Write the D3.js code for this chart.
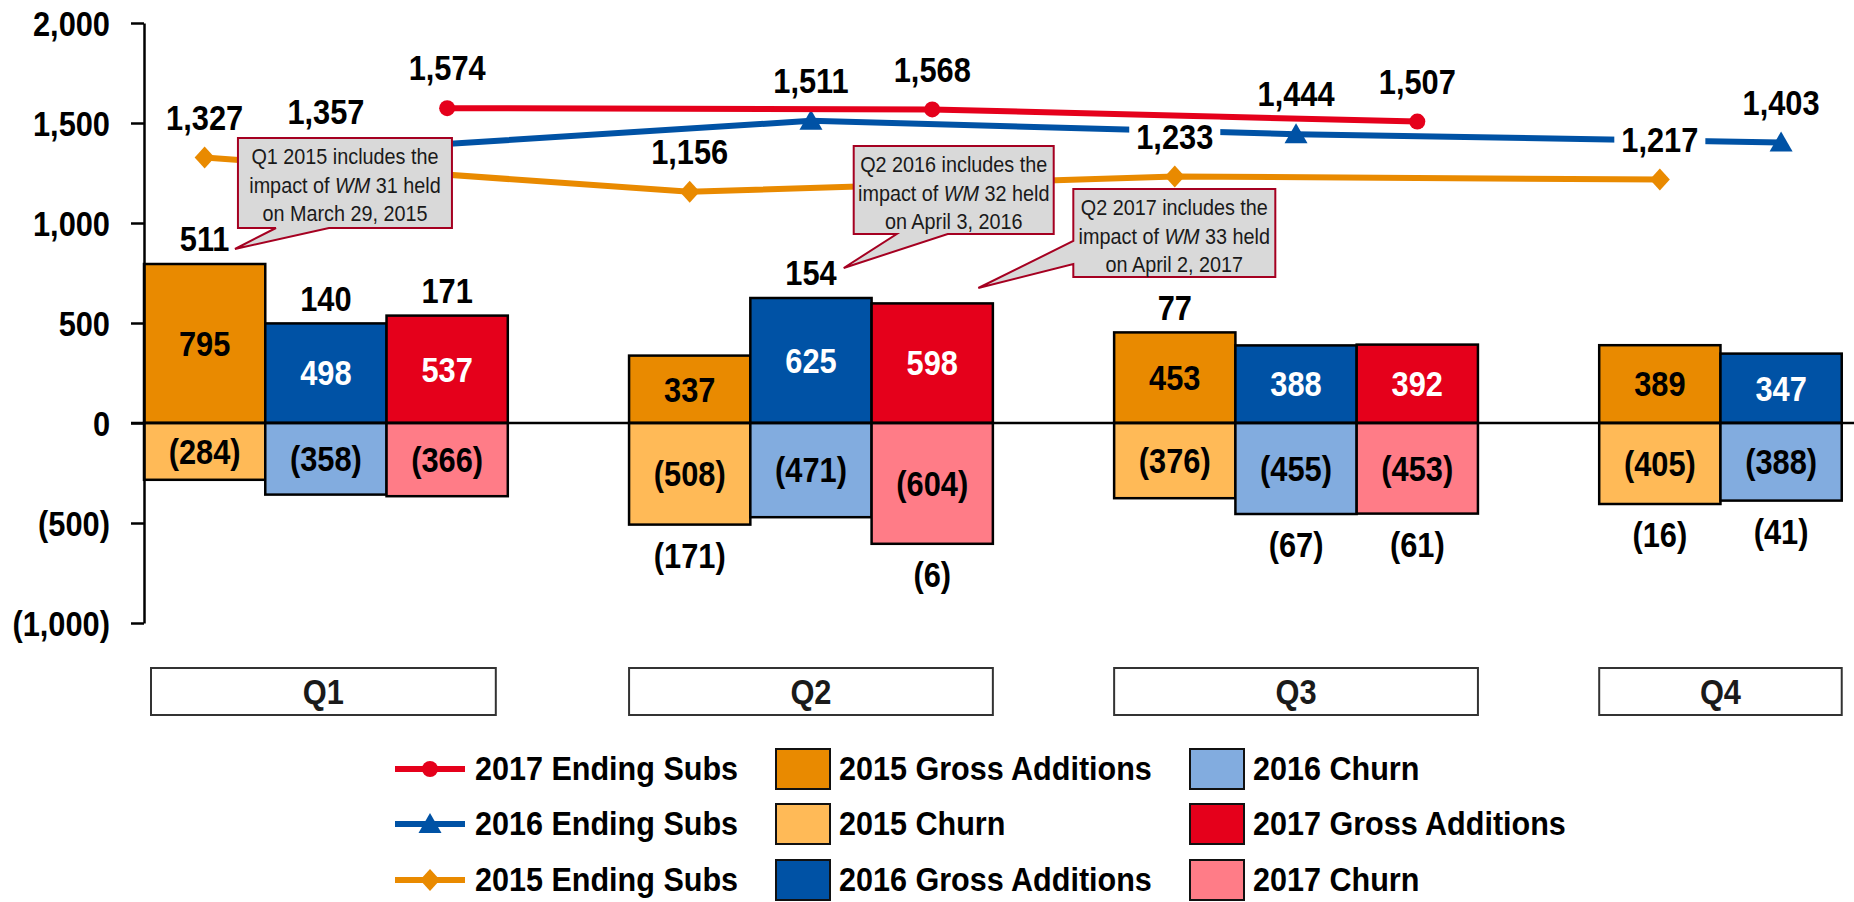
<!DOCTYPE html>
<html>
<head>
<meta charset="utf-8">
<script src="https://cdn.jsdelivr.net/npm/d3@7"></script>
<style>
  body { margin: 0; background: #fff; }
  svg text { font-family: "Liberation Sans", Arial, sans-serif; }
</style>
</head>
<body>
<div id="chart"></div>
<script>
// Data (thousands of subs)
var quarters = ["Q1", "Q2", "Q3", "Q4"];
var years = ["2015", "2016", "2017"];

var gross2015 = [795, 337, 453, 389];
var churn2015 = [-284, -508, -376, -405];
var gross2016 = [498, 625, 388, 347];
var churn2016 = [-358, -471, -455, -388];
var gross2017 = [537, 598, 392];
var churn2017 = [-366, -604, -453];

var ending2015 = [1327, 1156, 1233, 1217];
var ending2016 = [1357, 1511, 1444, 1403];
var ending2017 = [1574, 1568, 1507];

var yTicks = [-1000, -500, 0, 500, 1000, 1500, 2000];

var notes = [
    { quarter: "Q1", year: "2015", lines: ["Q1 2015 includes the", ["impact of ", "WM", " 31 held"], "on March 29, 2015"] },
    { quarter: "Q2", year: "2016", lines: ["Q2 2016 includes the", ["impact of ", "WM", " 32 held"], "on April 3, 2016"] },
    { quarter: "Q2", year: "2017", lines: ["Q2 2017 includes the", ["impact of ", "WM", " 33 held"], "on April 2, 2017"] }
];

var width = 1854, height = 902;
var SX = 0.88;      // the original lettering is narrow
var colors = {
    "2015": { gross: "#E98A00", churn: "#FFBA57", line: "#E98A00", grossText: "#000" },
    "2016": { gross: "#0052A5", churn: "#82ACDF", line: "#0052A5", grossText: "#fff" },
    "2017": { gross: "#E5001B", churn: "#FF7C87", line: "#E5001B", grossText: "#fff" }
};

var barSeries = [
    { year: "2015", gross: gross2015, churn: churn2015 },
    { year: "2016", gross: gross2016, churn: churn2016 },
    { year: "2017", gross: gross2017, churn: churn2017 }
];
var lineSeries = [
    { year: "2015", values: ending2015, shape: "diamond" },
    { year: "2016", values: ending2016, shape: "triangle" },
    { year: "2017", values: ending2017, shape: "circle" }
];

var fmtNum = d3.format(",");
function fmt(v) { return v < 0 ? "(" + fmtNum(-v) + ")" : fmtNum(v); }

var axisX = 144;
var x0 = d3.scaleBand()
    .domain(quarters)
    .range([axisX, axisX + 1819])
    .paddingInner(0.25)
    .paddingOuter(0);

var x1 = d3.scaleBand()
    .domain(years)
    .range([0, x0.bandwidth()]);

var y = d3.scaleLinear()
    .domain([-1000, 2000])
    .range([623, 23]);

var bw = x1.bandwidth();
function cx(q, yr) { return x0(q) + x1(yr) + bw / 2; }

var svg = d3.select("#chart").append("svg")
    .attr("width", width)
    .attr("height", height)
    .style("display", "block");

// text placed in a group so it can be squeezed horizontally
function label(parent, x, yy, str, size, opt) {
    opt = opt || {};
    var g = parent.append("g").attr("transform", "translate(" + x + "," + yy + ")");
    g.append("text")
        .attr("dy", "0.35em")
        .attr("transform", "scale(" + (opt.sx || SX) + ",1)")
        .style("text-anchor", opt.anchor || "middle")
        .style("font-size", size + "px")
        .style("font-weight", opt.weight || "bold")
        .style("fill", opt.fill || "#000")
        .text(str);
    return g;
}

// Bars
barSeries.forEach(function(s) {
    var c = colors[s.year];
    var g = svg.append("g").attr("class", "bars-" + s.year);
    g.selectAll("rect.gross")
        .data(s.gross)
        .enter().append("rect")
        .attr("class", "gross")
        .attr("x", (d, i) => x0(quarters[i]) + x1(s.year))
        .attr("y", d => y(d))
        .attr("width", bw)
        .attr("height", d => y(0) - y(d))
        .style("fill", c.gross)
        .style("stroke", "#000")
        .style("stroke-width", 2.5);
    g.selectAll("rect.churn")
        .data(s.churn)
        .enter().append("rect")
        .attr("class", "churn")
        .attr("x", (d, i) => x0(quarters[i]) + x1(s.year))
        .attr("y", y(0))
        .attr("width", bw)
        .attr("height", d => y(d) - y(0))
        .style("fill", c.churn)
        .style("stroke", "#000")
        .style("stroke-width", 2.5);
});

// Zero line
svg.append("line")
    .attr("x1", axisX - 13)
    .attr("x2", width)
    .attr("y1", y(0))
    .attr("y2", y(0))
    .style("stroke", "#000")
    .style("stroke-width", 2.5);

// Y axis
var yAxis = d3.axisLeft(y)
    .tickValues(yTicks)
    .tickFormat(fmt)
    .tickSize(13)
    .tickSizeOuter(0)
    .tickPadding(21);

var ax = svg.append("g")
    .attr("transform", "translate(" + axisX + ",0)")
    .call(yAxis);
ax.select(".domain").style("stroke", "#000").style("stroke-width", 2.5);
ax.selectAll(".tick line").style("stroke", "#000").style("stroke-width", 2.5);
ax.selectAll(".tick text")
    .attr("x", 0)
    .attr("dy", "0.35em")
    .attr("transform", "translate(-34,0) scale(" + SX + ",1)")
    .style("font-family", "'Liberation Sans', Arial, sans-serif")
    .style("font-size", "35px")
    .style("font-weight", "bold")
    .style("fill", "#000");

// Ending subs lines
var markerPath = {
    circle: "M8,0A8,8 0 1,1 -8,0A8,8 0 1,1 8,0Z",
    triangle: "M0,-11L11.5,9L-11.5,9Z",
    diamond: "M0,-11L10,0L0,11L-10,0Z"
};

lineSeries.forEach(function(s) {
    var pts = s.values.map((v, i) => ({ q: quarters[i], v: v }));
    var line = d3.line()
        .x(d => cx(d.q, s.year))
        .y(d => y(d.v));
    svg.append("path")
        .datum(pts)
        .attr("d", line)
        .style("fill", "none")
        .style("stroke", colors[s.year].line)
        .style("stroke-width", 6);
    svg.selectAll(".mk-" + s.year)
        .data(pts)
        .enter().append("path")
        .attr("class", "mk-" + s.year)
        .attr("transform", d => "translate(" + cx(d.q, s.year) + "," + y(d.v) + ")")
        .attr("d", markerPath[s.shape])
        .style("fill", colors[s.year].line);
});

// Callouts (box offsets relative to the pointer tip)
var noteLayout = [
    { tipFrac: 0.75, tipVal: 870, box: [3, -111, 214, 90], base: "bottom", b: [38, 91] },
    { tipFrac: 0.77, tipVal: 775, box: [10, -122, 200, 88], base: "bottom", b: [43, 94] },
    { tipFrac: 0.88, tipVal: 675, box: [95, -99, 202, 88], base: "left", b: [52, 75] }
];

notes.forEach(function(n, k) {
    var L = noteLayout[k];
    var tx = x0(n.quarter) + x1(n.year) + bw * L.tipFrac;
    var ty = y(L.tipVal);
    var left = tx + L.box[0], top = ty + L.box[1];
    var right = left + L.box[2], bottom = top + L.box[3];
    var p;
    if (L.base === "bottom") {
        p = "M" + left + "," + top + "H" + right + "V" + bottom +
            "H" + (left + L.b[1]) + "L" + tx + "," + ty + "L" + (left + L.b[0]) + "," + bottom +
            "H" + left + "Z";
    } else {
        p = "M" + left + "," + top + "H" + right + "V" + bottom + "H" + left +
            "V" + (top + L.b[1]) + "L" + tx + "," + ty + "L" + left + "," + (top + L.b[0]) + "Z";
    }
    var g = svg.append("g").attr("class", "note");
    g.append("path")
        .attr("d", p)
        .style("fill", "#D9D9D9")
        .style("stroke", "#A50021")
        .style("stroke-width", 2);
    var t = g.append("g")
        .attr("transform", "translate(" + (left + right) / 2 + "," + (top + 18) + ")")
        .append("text")
        .attr("transform", "scale(" + SX + ",1)")
        .style("text-anchor", "middle")
        .style("font-size", "22.5px")
        .style("fill", "#1a1a1a");
    n.lines.forEach(function(ln, j) {
        var parts = typeof ln === "string" ? [ln] : ln;
        parts.forEach(function(part, m) {
            var ts = t.append("tspan").text(part);
            if (m === 0) ts.attr("x", 0).attr("dy", j === 0 ? "0.35em" : 28.7);
            if (part === "WM") ts.style("font-style", "italic");
        });
    });
});

// Line value labels with white background
var labelLayer = svg.append("g");
lineSeries.forEach(function(s) {
    s.values.forEach(function(v, i) {
        var g = label(labelLayer, cx(quarters[i], s.year), y(v) - 40, fmt(v), 35);
        var bb = g.node().getBBox();
        g.insert("rect", "text")
            .attr("x", bb.x - 7).attr("y", bb.y + 3)
            .attr("width", bb.width + 14).attr("height", bb.height - 6)
            .style("fill", "#fff");
    });
});

// Bar value labels and net additions
barSeries.forEach(function(s) {
    var c = colors[s.year];
    s.gross.forEach(function(g, i) {
        var q = quarters[i], ch = s.churn[i], net = g + ch;
        var xc = cx(q, s.year);
        label(svg, xc, (y(g) + y(0)) / 2, fmt(g), 35, { fill: c.grossText });
        label(svg, xc, (y(ch) + y(0)) / 2, fmt(ch), 35);
        label(svg, xc, net >= 0 ? y(g) - 25 : y(ch) + 31, fmt(net), 35);
    });
});

// Quarter boxes
quarters.forEach(function(q, i) {
    var n = barSeries.filter(s => s.gross[i] !== undefined).length;
    var bx = x0(q) + (i === 0 ? 7 : 0);
    var bwid = n * bw - (i === 0 ? 19 : 0);
    svg.append("rect")
        .attr("x", bx).attr("y", 668)
        .attr("width", bwid).attr("height", 47)
        .style("fill", "#fff").style("stroke", "#333").style("stroke-width", 2);
    label(svg, bx + bwid / 2, 691.5, q, 35, { fill: "#1a1a1a" });
});

// Legend
var legendLines = [
    { label: "2017 Ending Subs", year: "2017", shape: "circle" },
    { label: "2016 Ending Subs", year: "2016", shape: "triangle" },
    { label: "2015 Ending Subs", year: "2015", shape: "diamond" }
];
var legendBoxes = [
    { label: "2015 Gross Additions", fill: colors["2015"].gross },
    { label: "2015 Churn", fill: colors["2015"].churn },
    { label: "2016 Gross Additions", fill: colors["2016"].gross },
    { label: "2016 Churn", fill: colors["2016"].churn },
    { label: "2017 Gross Additions", fill: colors["2017"].gross },
    { label: "2017 Churn", fill: colors["2017"].churn }
];
var rowY = [769, 824, 880];

var lg = svg.append("g").attr("class", "legend");
legendLines.forEach(function(d, i) {
    lg.append("line")
        .attr("x1", 395).attr("x2", 465).attr("y1", rowY[i]).attr("y2", rowY[i])
        .style("stroke", colors[d.year].line).style("stroke-width", 6);
    lg.append("path")
        .attr("transform", "translate(430," + rowY[i] + ")")
        .attr("d", markerPath[d.shape])
        .style("fill", colors[d.year].line);
    label(lg, 475, rowY[i], d.label, 32.5, { anchor: "start", sx: 0.94 });
});
legendBoxes.forEach(function(d, i) {
    var col = Math.floor(i / 3), row = i % 3;
    var sx = col === 0 ? 776 : 1190;
    lg.append("rect")
        .attr("x", sx).attr("y", rowY[row] - 20)
        .attr("width", 54).attr("height", 40)
        .style("fill", d.fill).style("stroke", "#111").style("stroke-width", 2);
    label(lg, sx + 63, rowY[row], d.label, 32.5, { anchor: "start", sx: 0.94 });
});
</script>
</body>
</html>
